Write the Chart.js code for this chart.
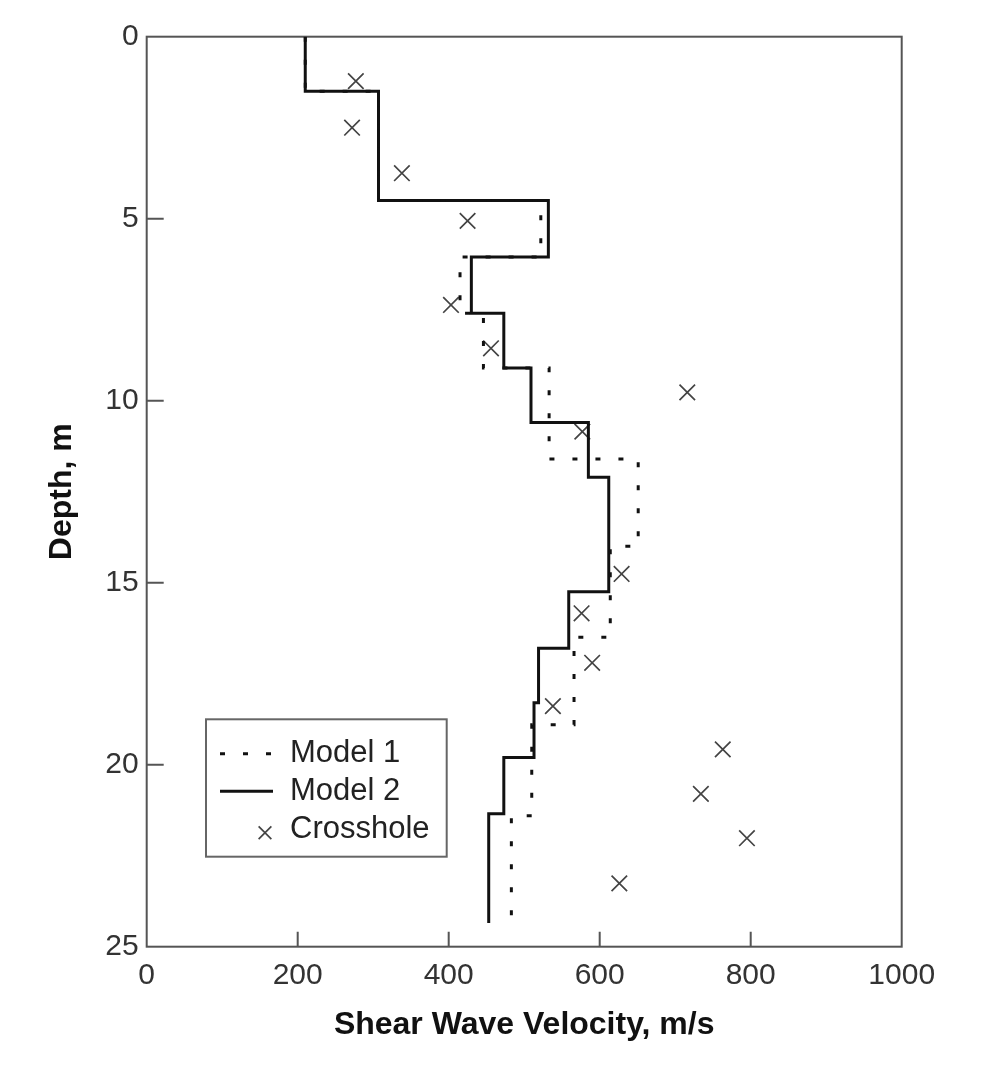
<!DOCTYPE html>
<html>
<head>
<meta charset="utf-8">
<title>Shear wave velocity profile</title>
<script src="https://cdn.jsdelivr.net/npm/chart.js@4.4.1/dist/chart.umd.min.js"></script>
<style>
  html, body { margin: 0; padding: 0; background: #fff; }
  #wrap { width: 1000px; height: 1077px; position: relative; }
</style>
</head>
<body>
<div id="wrap"><canvas id="vsChart"></canvas></div>
<script>
// Layer boundaries (m) and layer velocities (m/s)
const model1Depths = [0, 1.5, 4.5, 6.05, 7.6, 9.1, 11.6, 14.0, 16.5, 18.9, 21.4, 24.3];
const model1Vs     = [210, 307, 522, 415, 446, 533, 651, 614, 566, 510, 483];

const model2Depths = [0, 1.5, 4.5, 6.05, 7.6, 9.1, 10.6, 12.1, 15.25, 16.8, 18.3, 19.8, 21.35, 24.35];
const model2Vs     = [210, 307, 532, 430, 473, 509, 585, 612, 559, 519, 513, 473, 453];

// Crosshole measurements
const crossholeVs     = [277, 272, 338, 425, 403, 456, 716, 577, 629, 576, 590, 538, 763, 734, 795, 626];
const crossholeDepths = [1.22, 2.5, 3.75, 5.06, 7.37, 8.56, 9.77, 10.85, 14.76, 15.84, 17.2, 18.39, 19.58, 20.8, 22.02, 23.26];

// Axis ticks
const velocityTicks = [0, 200, 400, 600, 800, 1000];
const depthTicks = [0, 5, 10, 15, 20, 25];

const FONT = "'Liberation Sans', Arial, Helvetica, sans-serif";

// Turn layer boundaries + velocities into a stepped profile
function stepProfile(depths, vs) {
    const pts = [];
    vs.forEach((v, i) => {
        pts.push({ x: v, y: depths[i] });
        pts.push({ x: v, y: depths[i + 1] });
    });
    return pts;
}

// Box around the plot with inward ticks
const framePlugin = {
    id: 'frame',
    beforeDatasetsDraw(chart) {
        const { ctx, chartArea: a, scales: { x, y } } = chart;
        ctx.save();
        ctx.strokeStyle = '#555';
        ctx.lineWidth = 2;
        ctx.strokeRect(a.left, a.top, a.right - a.left, a.bottom - a.top);
        ctx.beginPath();
        x.ticks.forEach(t => {
            if (t.value > x.min && t.value < x.max) {
                const px = x.getPixelForValue(t.value);
                ctx.moveTo(px, a.bottom);
                ctx.lineTo(px, a.bottom - 15);
            }
        });
        y.ticks.forEach(t => {
            if (t.value > y.min && t.value < y.max) {
                const py = y.getPixelForValue(t.value);
                ctx.moveTo(a.left, py);
                ctx.lineTo(a.left + 17, py);
            }
        });
        ctx.stroke();
        ctx.restore();
    }
};

// Legend box in the lower left of the plot
const boxLegendPlugin = {
    id: 'boxLegend',
    afterDraw(chart, args, opts) {
        const { ctx } = chart;
        const sets = chart.data.datasets;
        ctx.save();
        ctx.strokeStyle = '#666';
        ctx.lineWidth = 2;
        ctx.strokeRect(opts.left, opts.top, opts.width, opts.height);

        ctx.font = '31px ' + FONT;
        ctx.fillStyle = '#222';
        ctx.textBaseline = 'middle';
        sets.forEach((ds, i) => {
            const rowY = opts.top + opts.rows[i];
            const x0 = opts.left + 14;
            const x1 = opts.left + 67;
            if (ds.showLine) {
                ctx.save();
                ctx.strokeStyle = ds.borderColor;
                ctx.lineWidth = ds.borderWidth;
                ctx.setLineDash(ds.borderDash || []);
                ctx.beginPath();
                ctx.moveTo(x0, rowY);
                ctx.lineTo(x1, rowY);
                ctx.stroke();
                ctx.restore();
            } else {
                ctx.save();
                ctx.strokeStyle = ds.borderColor;
                ctx.lineWidth = ds.borderWidth;
                Chart.helpers.drawPoint(ctx, { pointStyle: ds.pointStyle, radius: 9, borderWidth: ds.borderWidth, rotation: 0 }, x1 - 8, rowY + 3);
                ctx.restore();
            }
            ctx.fillText(ds.label, opts.left + 84, rowY);
        });
        ctx.restore();
    }
};

function initializeChart() {
    const ctx = document.getElementById('vsChart').getContext('2d');
    return new Chart(ctx, {
        type: 'scatter',
        data: {
            datasets: [{
                label: 'Model 1',
                data: stepProfile(model1Depths, model1Vs),
                showLine: true,
                borderColor: '#111',
                borderWidth: 3,
                borderDash: [5, 18],
                pointRadius: 0,
                tension: 0
            }, {
                label: 'Model 2',
                data: stepProfile(model2Depths, model2Vs),
                showLine: true,
                borderColor: '#111',
                borderWidth: 3,
                pointRadius: 0,
                tension: 0
            }, {
                label: 'Crosshole',
                data: crossholeVs.map((v, i) => ({ x: v, y: crossholeDepths[i] })),
                showLine: false,
                pointStyle: 'crossRot',
                pointRadius: 11,
                borderColor: '#444',
                borderWidth: 1.7
            }]
        },
        options: {
            responsive: true,
            maintainAspectRatio: false,
            animation: false,
            layout: { padding: { top: 36.7, right: 98.3, left: 0, bottom: 0 } },
            plugins: {
                legend: { display: false },
                tooltip: { enabled: false },
                boxLegend: { left: 206, top: 719.3, width: 240.7, height: 137.4, rows: [34.5, 72, 110.5] }
            },
            scales: {
                x: {
                    type: 'linear',
                    min: 0,
                    max: 1000,
                    afterBuildTicks: s => { s.ticks = velocityTicks.map(v => ({ value: v })); },
                    afterFit: s => { s.height = 130.3; },
                    grid: { display: false, drawTicks: false },
                    border: { display: false },
                    ticks: {
                        color: '#333',
                        padding: 11,
                        maxRotation: 0,
                        font: { family: FONT, size: 30 },
                        callback: v => String(v)
                    },
                    title: {
                        display: true,
                        text: 'Shear Wave Velocity, m/s',
                        color: '#111',
                        padding: { top: 0, bottom: 33 },
                        font: { family: FONT, size: 32, weight: 'bold' }
                    }
                },
                y: {
                    type: 'linear',
                    reverse: true,
                    min: 0,
                    max: 25,
                    afterBuildTicks: s => { s.ticks = depthTicks.map(v => ({ value: v })); },
                    afterFit: s => { s.width = 146.7; },
                    grid: { display: false, drawTicks: false },
                    border: { display: false },
                    ticks: {
                        color: '#333',
                        padding: 8,
                        font: { family: FONT, size: 30 },
                        callback: v => String(v)
                    },
                    title: {
                        display: true,
                        text: 'Depth, m',
                        color: '#111',
                        padding: { top: 43, bottom: 0 },
                        font: { family: FONT, size: 32, weight: 'bold' }
                    }
                }
            }
        },
        plugins: [framePlugin, boxLegendPlugin]
    });
}

document.addEventListener('DOMContentLoaded', () => {
    initializeChart();
});
</script>
</body>
</html>
